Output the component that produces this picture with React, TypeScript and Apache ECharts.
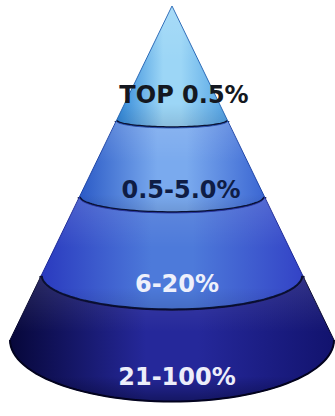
import React, { useEffect, useRef } from "react";
import * as echarts from "echarts";

// Tier labels, from apex to base
const tiers = ["TOP 0.5%", "0.5-5.0%", "6-20%", "21-100%"];
// Depth (in % of cone height, apex = 0) where each tier starts and ends
const tierStart = [0, 34.4, 57.2, 80.8];
const tierEnd = [34.4, 57.2, 80.8, 100];

const shades = [
  { l: "#2f86d8", m: "#9cd6f6", r: "#52a2e4", line: "#2a6ab8", text: "#141821", dx: 12 },
  { l: "#2b5ac6", m: "#7aaaee", r: "#3b66d2", line: "#1f46a8", text: "#0f1d45", dx: 9 },
  { l: "#2a3abf", m: "#4d7ada", r: "#3343c6", line: "#1d2a98", text: "#eef0fb", dx: 5 },
  { l: "#07073a", m: "#25289a", r: "#12136e", line: "#05052e", text: "#eceefa", dx: 5 },
];

const tilt = (d: number) => {
  const t = d / 100;
  return 0.1 + 0.05 * t + 0.23 * t * t * t;
};

export default function App() {
  const ref = useRef<HTMLDivElement>(null);
  useEffect(() => {
    document.body.style.margin = "0";
    const chart = echarts.init(ref.current!, null, { renderer: "svg" });
    const data = tiers.map((name, i) => ({ name, value: [i, tierStart[i], tierEnd[i]] }));
    chart.setOption({
      animation: false,
      backgroundColor: "#ffffff",
      grid: { left: 10, right: 1, top: 6, bottom: 76 },
      xAxis: { type: "value", min: -1, max: 1, show: false },
      yAxis: { type: "value", min: 0, max: 100, inverse: true, show: false },
      series: [
        {
          type: "custom",
          clip: false,
          data,
          renderItem: (params: any, api: any) => {
            const i = api.value(0);
            const d0 = api.value(1);
            const d1 = api.value(2);
            const ring = (d: number) => {
              const c = api.coord([0, d]);
              const e = api.coord([d / 100, d]);
              const rx = e[0] - c[0];
              return { cx: c[0], cy: c[1], rx, ry: rx * tilt(d) };
            };
            const a = ring(d0);
            const b = ring(d1);
            const N = 60;
            const arc = (r: any) => {
              const pts: number[][] = [];
              for (let k = 0; k <= N; k++) {
                const p = (Math.PI * k) / N;
                pts.push([r.cx - r.rx * Math.cos(p), r.cy + r.ry * Math.sin(p)]);
              }
              return pts;
            };
            const topArc = arc(a);
            const botArc = arc(b);
            const poly = [...topArc, ...botArc.slice().reverse()];
            const s = shades[i];
            const children: any[] = [
              {
                type: "polygon",
                shape: { points: poly },
                style: {
                  fill: {
                    type: "linear", x: 0, y: 0, x2: 1, y2: 0,
                    colorStops: [
                      { offset: 0, color: s.l },
                      { offset: 0.42, color: s.m },
                      { offset: 0.58, color: s.m },
                      { offset: 1, color: s.r },
                    ],
                  },
                  stroke: s.line,
                  lineWidth: 1,
                },
              },
              {
                type: "polygon",
                shape: { points: poly },
                style: {
                  fill: {
                    type: "linear", x: 0, y: 0, x2: 0, y2: 1,
                    colorStops: [
                      { offset: 0, color: "rgba(255,255,255,0.12)" },
                      { offset: 0.45, color: "rgba(255,255,255,0)" },
                      { offset: 0.8, color: "rgba(0,0,30,0)" },
                      { offset: 1, color: i === 3 ? "rgba(0,0,30,0.45)" : "rgba(0,0,30,0.12)" },
                    ],
                  },
                },
              },
            ];
            if (i < tiers.length - 1) {
              children.push({
                type: "polyline",
                shape: { points: botArc },
                style: { stroke: "#0a1232", lineWidth: 3.5, fill: "none" },
              });
            } else {
              children.push({
                type: "polyline",
                shape: { points: botArc },
                style: { stroke: "#03031f", lineWidth: 2, fill: "none" },
              });
            }
            const yTop = a.cy + a.ry;
            const yBot = b.cy + b.ry;
            const ly = yTop + (yBot - yTop) * 0.73;
            children.push({
              type: "text",
              style: {
                text: tiers[i],
                x: a.cx + s.dx,
                y: ly,
                align: "center",
                verticalAlign: "middle",
                fill: s.text,
                fontSize: 24,
                fontWeight: "bold",
                fontFamily: "DejaVu Sans",
              },
            });
            return { type: "group", children };
          },
        },
      ],
    });
    return () => chart.dispose();
  }, []);
  return <div ref={ref} style={{ width: 335, height: 416 }} />;
}
